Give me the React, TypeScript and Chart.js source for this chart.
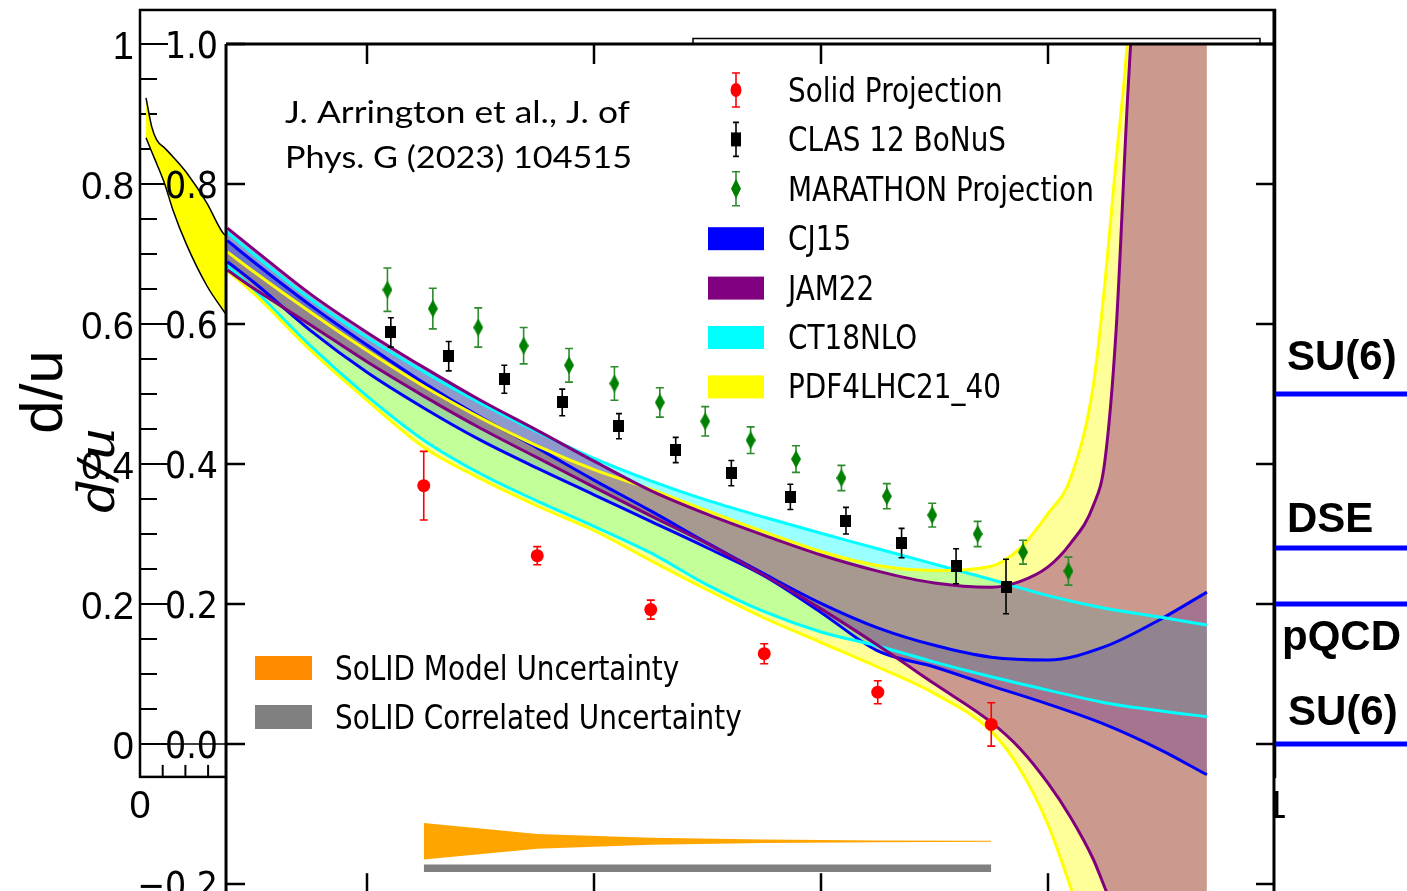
import React, { useEffect, useRef } from 'react';
import { Chart, registerables } from 'chart.js';

// ---------------- DATA (x = Bjorken x, y = d/u) ----------------
const solidX = [0.25, 0.35, 0.45, 0.55, 0.65, 0.75];
const solidY = [0.369, 0.269, 0.192, 0.129, 0.074, 0.028];
const solidErr = [0.049, 0.013, 0.0136, 0.0143, 0.0164, 0.031];

const bonusX = [0.221, 0.272, 0.321, 0.372, 0.422, 0.472, 0.521, 0.573, 0.622, 0.671, 0.719, 0.763];
const bonusY = [0.588, 0.554, 0.521, 0.488, 0.454, 0.42, 0.387, 0.353, 0.319, 0.287, 0.254, 0.225];
const bonusErr = [0.021, 0.021, 0.02, 0.019, 0.018, 0.018, 0.018, 0.018, 0.019, 0.021, 0.025, 0.039];

const marathonX = [0.218, 0.258, 0.298, 0.338, 0.378, 0.418, 0.458, 0.498, 0.538, 0.578, 0.618, 0.658, 0.698, 0.738, 0.778, 0.818];
const marathonY = [0.649, 0.622, 0.595, 0.569, 0.541, 0.515, 0.488, 0.461, 0.434, 0.407, 0.38, 0.354, 0.327, 0.3, 0.274, 0.247];
const marathonErr = [0.031, 0.029, 0.028, 0.026, 0.024, 0.024, 0.021, 0.021, 0.019, 0.019, 0.018, 0.018, 0.017, 0.018, 0.017, 0.02];

const bandX = [0.077, 0.1, 0.15, 0.2, 0.25, 0.3, 0.35, 0.4, 0.45, 0.5, 0.55, 0.6, 0.65, 0.7, 0.75, 0.8, 0.85, 0.9, 0.94];
const cj15Upper = [0.719, 0.689, 0.627, 0.57, 0.516, 0.467, 0.423, 0.377, 0.333, 0.287, 0.243, 0.201, 0.166, 0.141, 0.124, 0.12, 0.139, 0.179, 0.217];
const cj15Lower = [0.689, 0.66, 0.591, 0.531, 0.48, 0.434, 0.394, 0.356, 0.318, 0.28, 0.24, 0.188, 0.133, 0.11, 0.083, 0.057, 0.028, -0.009, -0.044];
const ct18Upper = [0.731, 0.7, 0.636, 0.581, 0.532, 0.487, 0.446, 0.408, 0.376, 0.348, 0.324, 0.301, 0.279, 0.257, 0.235, 0.212, 0.194, 0.181, 0.17];
const ct18Lower = [0.683, 0.65, 0.569, 0.497, 0.434, 0.386, 0.347, 0.311, 0.273, 0.227, 0.189, 0.16, 0.14, 0.117, 0.096, 0.077, 0.059, 0.047, 0.039];

const wideX = [0.077, 0.1, 0.15, 0.2, 0.25, 0.3, 0.35, 0.4, 0.45, 0.5, 0.55, 0.6, 0.65, 0.7, 0.75, 0.775, 0.8, 0.82, 0.84, 0.85, 0.86, 0.87, 0.9, 0.94];
const jam22Upper = [0.737, 0.707, 0.643, 0.588, 0.538, 0.491, 0.448, 0.404, 0.362, 0.328, 0.298, 0.27, 0.247, 0.23, 0.224, 0.232, 0.253, 0.287, 0.341, 0.403, 0.591, 0.92, 1.777, 2.634];
const jam22Lower = [0.677, 0.651, 0.599, 0.546, 0.497, 0.451, 0.409, 0.367, 0.326, 0.286, 0.241, 0.193, 0.141, 0.086, 0.031, -0.006, -0.056, -0.105, -0.165, -0.205, -0.244, -0.28, -0.409, -0.58];
const pdf4lhcUpper = [0.703, 0.675, 0.617, 0.562, 0.511, 0.466, 0.426, 0.392, 0.364, 0.333, 0.303, 0.275, 0.255, 0.248, 0.254, 0.279, 0.329, 0.38, 0.513, 0.656, 0.834, 1.006, 1.92, 2.92];
const pdf4lhcLower = [0.676, 0.644, 0.563, 0.491, 0.424, 0.379, 0.34, 0.305, 0.262, 0.22, 0.18, 0.145, 0.11, 0.072, 0.018, -0.035, -0.115, -0.205, -0.3, -0.355, -0.42, -0.5, -0.794, -1.366];

const solidModelX = [0.25, 0.35, 0.45, 0.55, 0.65, 0.75];
const solidModelCenter = [-0.139, -0.139, -0.139, -0.139, -0.139, -0.139];
const solidModelHalf = [0.026, 0.0105, 0.005, 0.0025, 0.0013, 0.0007];
const solidCorrX = [0.25, 0.75];
const solidCorrCenter = [-0.1775, -0.1775];
const solidCorrHalf = [0.0055, 0.0055];

const outerBandX = [0.0053, 0.0103, 0.0147, 0.022, 0.029, 0.0411, 0.0588, 0.0731, 0.0758];
const outerBandUpper = [0.923, 0.882, 0.863, 0.851, 0.839, 0.816, 0.773, 0.73, 0.726];
const outerBandLower = [0.866, 0.846, 0.829, 0.799, 0.763, 0.713, 0.655, 0.62, 0.614];

const theoryNames = ['SU(6)', 'DSE', 'pQCD', 'SU(6)'];
const theoryValues = [0.5, 0.28, 0.2, 0.0];

const outerMajorY = [1, 0.8, 0.6, 0.4, 0.2, 0];
const outerMajorLabels = ['1', '0.8', '0.6', '0.4', '0.2', '0'];
const outerMinorY = [0.95, 0.9, 0.85, 0.75, 0.7, 0.65, 0.55, 0.5, 0.45, 0.35, 0.3, 0.25, 0.15, 0.1, 0.05];
const outerMinorX = [0.02, 0.04, 0.06];
const innerYTicks = [1.0, 0.8, 0.6, 0.4, 0.2, 0.0, -0.2];
const innerYLabels = ['1.0', '0.8', '0.6', '0.4', '0.2', '0.0', '\u22120.2'];
const innerXTicks = [0.2, 0.4, 0.6, 0.8];

const legendLabels = ['Solid Projection', 'CLAS 12 BoNuS', 'MARATHON Projection', 'CJ15', 'JAM22', 'CT18NLO', 'PDF4LHC21_40'];
const legendColors = ['#ff0000', '#000000', '#008000', '#0000ff', '#800080', '#00ffff', '#ffff00'];
const solidLegendLabels = ['SoLID Model Uncertainty', 'SoLID Correlated Uncertainty'];
const solidLegendColors = ['#ff8c00', '#808080'];

// ---------------- layout constants (axis frames, in data units) ----------------
const X_MIN = -140 / 1135;
const X_MAX = (1407 - 140) / 1135;
const Y_MIN = (744 - 891) / 700;
const Y_MAX = 744 / 700;
const OUTER_TOP = 1.0486;
const OUTER_BOTTOM = -0.047;
const INNER_LEFT = 0.0758;
const INNER_RIGHT = 0.9991;
const INNER_BOTTOM_AXIS = -0.216;
const INNER_CLIP = [INNER_LEFT, INNER_RIGHT, -0.4, 1.0];
const OUTER_CLIP = [0, INNER_LEFT, OUTER_BOTTOM, OUTER_TOP];

const pts = (xs: number[], ys: number[]) => xs.map((x, i) => ({ x, y: ys[i] }));
const offs = (ys: number[], d: number[], s: number) => ys.map((y, i) => +(y + s * d[i]).toFixed(5));

// Clip / error-bar plugin registered before the filler so fills get clipped as well.
const bandClipPlugin = {
  id: 'bandClip',
  beforeDatasetDraw(chart: any, args: any) {
    const ds = chart.data.datasets[args.index];
    const ctx = chart.ctx;
    const xs = chart.scales.x, ys = chart.scales.y;
    if (ds.clipBox) {
      const [x0, x1, y0, y1] = ds.clipBox;
      const l = xs.getPixelForValue(x0), r = xs.getPixelForValue(x1);
      const t = ys.getPixelForValue(y1), b = ys.getPixelForValue(y0);
      ctx.save();
      ctx.beginPath();
      ctx.rect(l, t, r - l, b - t);
      ctx.clip();
    }
    if (ds.errors) {
      ctx.save();
      ctx.strokeStyle = ds.errColor;
      ctx.lineWidth = 1.6;
      ds.data.forEach((p: any, i: number) => {
        const px = xs.getPixelForValue(p.x);
        const yt = ys.getPixelForValue(p.y + ds.errors[i]);
        const yb = ys.getPixelForValue(p.y - ds.errors[i]);
        ctx.beginPath();
        ctx.moveTo(px, yt); ctx.lineTo(px, yb);
        ctx.moveTo(px - ds.capHalf, yt); ctx.lineTo(px + ds.capHalf, yt);
        ctx.moveTo(px - ds.capHalf, yb); ctx.lineTo(px + ds.capHalf, yb);
        ctx.stroke();
      });
      ctx.restore();
    }
  },
  afterDatasetDraw(chart: any, args: any) {
    const ds = chart.data.datasets[args.index];
    if (ds.clipBox) chart.ctx.restore();
  },
};

Chart.register(bandClipPlugin, ...registerables);

function drawText(ctx: CanvasRenderingContext2D, s: string, x: number, y: number, font: string,
  o: { align?: string; sx?: number; width?: number; color?: string; rotate?: number } = {}) {
  ctx.save();
  ctx.font = font;
  ctx.fillStyle = o.color || '#000';
  ctx.textAlign = 'left';
  ctx.textBaseline = 'alphabetic';
  const w = ctx.measureText(s).width;
  const k = o.width ? o.width / w : (o.sx || 1);
  ctx.translate(x, y);
  if (o.rotate) ctx.rotate(o.rotate);
  ctx.scale(k, 1);
  const off = o.align === 'right' ? -w : o.align === 'center' ? -w / 2 : 0;
  ctx.fillText(s, off, 0);
  ctx.restore();
}

function seg(ctx: CanvasRenderingContext2D, x0: number, y0: number, x1: number, y1: number, w: number, c = '#000') {
  ctx.save();
  ctx.strokeStyle = c;
  ctx.lineWidth = w;
  ctx.beginPath();
  ctx.moveTo(x0, y0);
  ctx.lineTo(x1, y1);
  ctx.stroke();
  ctx.restore();
}

function errMarker(ctx: CanvasRenderingContext2D, x: number, y: number, half: number, cap: number, color: string) {
  ctx.save();
  ctx.strokeStyle = color; ctx.lineWidth = 1.6;
  ctx.beginPath();
  ctx.moveTo(x, y - half); ctx.lineTo(x, y + half);
  ctx.moveTo(x - cap, y - half); ctx.lineTo(x + cap, y - half);
  ctx.moveTo(x - cap, y + half); ctx.lineTo(x + cap, y + half);
  ctx.stroke();
  ctx.restore();
}

const decorPlugin = {
  id: 'decor',
  beforeDraw(chart: any) {
    const ctx = chart.ctx;
    ctx.save();
    ctx.fillStyle = '#fff';
    ctx.fillRect(0, 0, chart.width, chart.height);
    ctx.restore();
  },
  beforeDatasetsDraw(chart: any) {
    const ctx: CanvasRenderingContext2D = chart.ctx;
    const X = (v: number) => chart.scales.x.getPixelForValue(v);
    const Y = (v: number) => chart.scales.y.getPixelForValue(v);
    const l = X(0), r = X(1), t = Y(OUTER_TOP), b = Y(OUTER_BOTTOM);
    ctx.save();
    ctx.strokeStyle = '#000';
    ctx.lineWidth = 2.5;
    ctx.strokeRect(l, t, r - l, b - t);
    ctx.restore();
    seg(ctx, l, Y(0), X(INNER_LEFT), Y(0), 1.5);
    outerMinorY.forEach((v) => seg(ctx, l, Y(v), l + 17, Y(v), 2));
    outerMajorY.forEach((v) => seg(ctx, l, Y(v), l + 28, Y(v), 2));
    outerMinorX.forEach((v) => seg(ctx, X(v), b, X(v), b - 12, 2));
    const f = '38px "Liberation Sans", Arial, sans-serif';
    outerMajorY.forEach((v, i) => drawText(ctx, outerMajorLabels[i], l - 6, Y(v) + 15, f, { align: 'right' }));
    drawText(ctx, '0', X(0), b + 41, f, { align: 'center' });
    drawText(ctx, '1', X(1) + 1, b + 41, f, { align: 'center' });
    // axis titles
    drawText(ctx, 'd/u', 62, 392, '60px "Liberation Sans", Arial, sans-serif', { align: 'center', rotate: -Math.PI / 2 });
    drawText(ctx, 'd/u', 114, 470, 'italic 50px "DejaVu Serif", serif', { align: 'center', rotate: -Math.PI / 2, width: 86 });
    // inner plot background
    ctx.save();
    ctx.fillStyle = '#fff';
    ctx.fillRect(X(INNER_LEFT), Y(1.0), X(INNER_RIGHT) - X(INNER_LEFT) + 1, chart.height - Y(1.0));
    ctx.restore();
  },
  afterDatasetsDraw(chart: any) {
    const ctx: CanvasRenderingContext2D = chart.ctx;
    const X = (v: number) => chart.scales.x.getPixelForValue(v);
    const Y = (v: number) => chart.scales.y.getPixelForValue(v);
    const il = X(INNER_LEFT), ir = X(INNER_RIGHT), it = Y(1.0), ib = Y(INNER_BOTTOM_AXIS);
    // inner frame
    seg(ctx, il, it, il, chart.height, 3);
    seg(ctx, il, it, ir + 1, it, 3);
    seg(ctx, ir, Y(OUTER_TOP) - 1, ir, chart.height, 3);
    // legend frame edge above the plot
    ctx.save();
    ctx.strokeStyle = '#000'; ctx.lineWidth = 1.5;
    ctx.beginPath();
    ctx.moveTo(693, it); ctx.lineTo(693, it - 5.5); ctx.lineTo(1260, it - 5.5); ctx.lineTo(1260, it);
    ctx.stroke();
    ctx.restore();
    innerYTicks.forEach((v) => {
      seg(ctx, il, Y(v), il + 19, Y(v), 2.5);
      seg(ctx, ir, Y(v), ir - 18, Y(v), 2.5);
    });
    innerXTicks.forEach((v) => {
      seg(ctx, X(v), it, X(v), it + 20, 2.5);
      seg(ctx, X(v), ib, X(v), ib - 22, 2.5);
    });
    const tf = '37px "DejaVu Sans", sans-serif';
    innerYTicks.forEach((v, i) => drawText(ctx, innerYLabels[i], il - 8, Y(v) + 14, tf, { align: 'right', sx: 0.9 }));

    // citation text
    drawText(ctx, 'J. Arrington et al., J. of', 285, 123, '31px Lato, "Open Sans", sans-serif', { width: 345 });
    drawText(ctx, 'Phys. G (2023) 104515', 285, 168, '31px Lato, "Open Sans", sans-serif', { width: 347 });

    // legend (top right)
    const lf = '34px "DejaVu Sans", sans-serif';
    legendLabels.forEach((s, i) => {
      const base = 102 + i * 49.4;
      drawText(ctx, s, 788, base, lf, { sx: 0.82 });
      const cy = base - 12;
      if (i === 0) {
        errMarker(ctx, 736, cy, 17, 4, legendColors[i]);
        ctx.save(); ctx.fillStyle = legendColors[i]; ctx.beginPath(); ctx.ellipse(736, cy, 5.5, 7, 0, 0, Math.PI * 2); ctx.fill(); ctx.restore();
      } else if (i === 1) {
        errMarker(ctx, 736, cy, 17, 3, legendColors[i]);
        ctx.save(); ctx.fillStyle = legendColors[i]; ctx.fillRect(731, cy - 7, 10, 14); ctx.restore();
      } else if (i === 2) {
        errMarker(ctx, 736, cy, 17, 4, '#2e8b2e');
        ctx.save(); ctx.fillStyle = legendColors[i]; ctx.beginPath();
        ctx.moveTo(736, cy - 10); ctx.lineTo(741, cy); ctx.lineTo(736, cy + 10); ctx.lineTo(731, cy); ctx.closePath(); ctx.fill(); ctx.restore();
      } else {
        ctx.save(); ctx.fillStyle = legendColors[i]; ctx.fillRect(708, base - 23, 56, 23); ctx.restore();
      }
    });
    // legend (lower left)
    solidLegendLabels.forEach((s, i) => {
      const base = 680 + i * 49;
      ctx.save(); ctx.fillStyle = solidLegendColors[i]; ctx.fillRect(255, base - 24, 57, 24); ctx.restore();
      drawText(ctx, s, 335, base, lf, { sx: 0.82 });
    });

    // theory labels right of the plot
    const bf = 'bold 42px "Liberation Sans", Arial, sans-serif';
    const labelOffsets = [-24, -16, 46, -19];
    const labelX = [1287, 1287, 1282, 1288];
    theoryValues.forEach((v, i) => drawText(ctx, theoryNames[i], labelX[i], Y(v) + labelOffsets[i], bf));
  },
};

function makeRect(w: number, h: number, color: string) {
  const c = document.createElement('canvas');
  c.width = w; c.height = h;
  const g = c.getContext('2d')!;
  g.fillStyle = color; g.fillRect(0, 0, w, h);
  return c;
}
function makeDiamond(w: number, h: number, color: string) {
  const c = document.createElement('canvas');
  c.width = w; c.height = h;
  const g = c.getContext('2d')!;
  g.fillStyle = color;
  g.beginPath(); g.moveTo(w / 2, 0); g.lineTo(w, h / 2); g.lineTo(w / 2, h); g.lineTo(0, h / 2); g.closePath(); g.fill();
  return c;
}

// translucent fill between two boundaries (no border)
function bandFill(label: string, xs: number[], up: number[], lo: number[], fillColor: string, order: number) {
  const common = { borderWidth: 0, borderColor: 'rgba(0,0,0,0)', pointRadius: 0, showLine: true, order, cubicInterpolationMode: 'monotone', clipBox: INNER_CLIP };
  return [
    { ...common, label: label + ' fill top', data: pts(xs, up), fill: false },
    { ...common, label: label + ' fill bottom', data: pts(xs, lo), fill: '-1', backgroundColor: fillColor },
  ];
}
// boundary lines, drawn above every fill
function bandLines(label: string, xs: number[], up: number[], lo: number[], color: string, order: number) {
  const common = { borderColor: color, borderWidth: 3, pointRadius: 0, showLine: true, fill: false, order, cubicInterpolationMode: 'monotone', clipBox: INNER_CLIP };
  return [
    { ...common, label: label + ' upper', data: pts(xs, up) },
    { ...common, label: label + ' lower', data: pts(xs, lo) },
  ];
}

export default function App() {
  const ref = useRef<HTMLCanvasElement>(null);
  useEffect(() => {
    const canvas = ref.current!;
    const square = makeRect(11, 12, '#000000');
    const diamond = makeDiamond(10, 18, '#008000');
    const datasets: any[] = [
      { label: 'Solid Projection', data: pts(solidX, solidY), showLine: false, pointStyle: 'circle', pointRadius: 6.5, pointBorderWidth: 0, pointBackgroundColor: '#ff0000', errors: solidErr, errColor: '#ff0000', capHalf: 4, order: 0 },
      { label: 'CLAS 12 BoNuS', data: pts(bonusX, bonusY), showLine: false, pointStyle: square, errors: bonusErr, errColor: '#000000', capHalf: 3, order: 0 },
      { label: 'MARATHON Projection', data: pts(marathonX, marathonY), showLine: false, pointStyle: diamond, errors: marathonErr, errColor: '#2e8b2e', capHalf: 4, order: 0 },
      ...bandLines('JAM22', wideX, jam22Upper, jam22Lower, '#800080', 2),
      ...bandLines('PDF4LHC21_40', wideX, pdf4lhcUpper, pdf4lhcLower, '#ffff00', 3),
      ...bandLines('CT18NLO', bandX, ct18Upper, ct18Lower, '#00ffff', 4),
      ...bandLines('CJ15', bandX, cj15Upper, cj15Lower, '#0000ff', 5),
      ...bandFill('JAM22', wideX, jam22Upper, jam22Lower, 'rgba(128,0,128,0.4)', 10),
      ...bandFill('PDF4LHC21_40', wideX, pdf4lhcUpper, pdf4lhcLower, 'rgba(255,255,0,0.4)', 20),
      ...bandFill('CT18NLO', bandX, ct18Upper, ct18Lower, 'rgba(0,255,255,0.4)', 30),
      ...bandFill('CJ15', bandX, cj15Upper, cj15Lower, 'rgba(0,0,255,0.4)', 40),
      { label: 'SoLID model up', data: pts(solidModelX, offs(solidModelCenter, solidModelHalf, 1)), borderWidth: 0, pointRadius: 0, fill: false, order: 50, clipBox: INNER_CLIP },
      { label: 'SoLID model lo', data: pts(solidModelX, offs(solidModelCenter, solidModelHalf, -1)), borderWidth: 0, pointRadius: 0, fill: '-1', backgroundColor: '#ffa500', order: 50, clipBox: INNER_CLIP },
      { label: 'SoLID corr up', data: pts(solidCorrX, offs(solidCorrCenter, solidCorrHalf, 1)), borderWidth: 0, pointRadius: 0, fill: false, order: 50, clipBox: INNER_CLIP },
      { label: 'SoLID corr lo', data: pts(solidCorrX, offs(solidCorrCenter, solidCorrHalf, -1)), borderWidth: 0, pointRadius: 0, fill: '-1', backgroundColor: '#808080', order: 50, clipBox: INNER_CLIP },
      { label: 'outer up', data: pts(outerBandX, outerBandUpper), borderColor: '#000', borderWidth: 1.5, pointRadius: 0, fill: false, order: 60, cubicInterpolationMode: 'monotone', clipBox: OUTER_CLIP },
      { label: 'outer lo', data: pts(outerBandX, outerBandLower), borderColor: '#000', borderWidth: 1.5, pointRadius: 0, fill: '-1', backgroundColor: '#ffff00', order: 60, cubicInterpolationMode: 'monotone', clipBox: OUTER_CLIP },
      ...theoryValues.map((v, i) => ({ label: theoryNames[i], data: [{ x: 1.0, y: v }, { x: 1.2, y: v }], borderColor: '#0000ff', borderWidth: 5, pointRadius: 0, fill: false, order: 1 })),
    ];
    const chart = new Chart(canvas, {
      type: 'line',
      data: { datasets },
      options: {
        animation: false,
        responsive: false,
        devicePixelRatio: 1,
        events: [],
        layout: { padding: 0, autoPadding: false },
        scales: {
          x: { type: 'linear', min: X_MIN, max: X_MAX, display: false },
          y: { type: 'linear', min: Y_MIN, max: Y_MAX, display: false },
        },
        elements: { line: { capBezierPoints: false } },
        plugins: { legend: { display: false }, tooltip: { enabled: false }, title: { display: false } },
      } as any,
      plugins: [decorPlugin],
    });
    return () => chart.destroy();
  }, []);
  return (
    <div style={{ position: 'fixed', left: 0, top: 0, width: 1407, height: 891, background: '#fff' }}>
      <canvas ref={ref} width={1407} height={891} style={{ display: 'block', width: 1407, height: 891 }} />
    </div>
  );
}
